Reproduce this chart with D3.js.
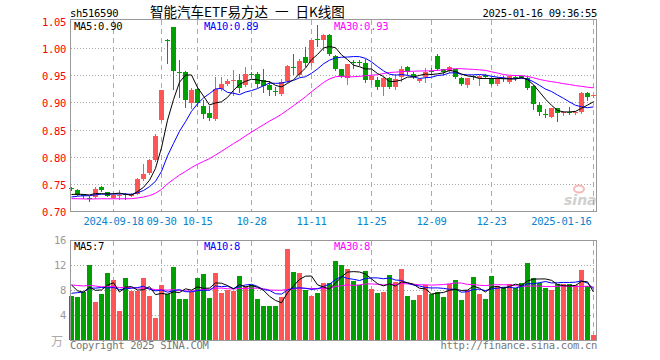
<!DOCTYPE html>
<html><head><meta charset="utf-8">
<script src="https://cdn.jsdelivr.net/npm/d3@7"></script>
<style>body{margin:0;background:#fff}svg{display:block}</style>
</head><body><svg id="c" width="660" height="360"></svg>
<script>
const dates = ["2024-09-05","2024-09-06","2024-09-09","2024-09-10","2024-09-11","2024-09-12","2024-09-13","2024-09-18","2024-09-19","2024-09-20",
"2024-09-23","2024-09-24","2024-09-25","2024-09-26","2024-09-27","2024-09-30","2024-10-08","2024-10-09","2024-10-10","2024-10-11",
"2024-10-14","2024-10-15","2024-10-16","2024-10-17","2024-10-18","2024-10-21","2024-10-22","2024-10-23","2024-10-24","2024-10-25",
"2024-10-28","2024-10-29","2024-10-30","2024-10-31","2024-11-01","2024-11-04","2024-11-05","2024-11-06","2024-11-07","2024-11-08",
"2024-11-11","2024-11-12","2024-11-13","2024-11-14","2024-11-15","2024-11-18","2024-11-19","2024-11-20","2024-11-21","2024-11-22",
"2024-11-25","2024-11-26","2024-11-27","2024-11-28","2024-11-29","2024-12-02","2024-12-03","2024-12-04","2024-12-05","2024-12-06",
"2024-12-09","2024-12-10","2024-12-11","2024-12-12","2024-12-13","2024-12-16","2024-12-17","2024-12-18","2024-12-19","2024-12-20",
"2024-12-23","2024-12-24","2024-12-25","2024-12-26","2024-12-27","2024-12-30","2024-12-31","2025-01-02","2025-01-03","2025-01-06",
"2025-01-07","2025-01-08","2025-01-09","2025-01-10","2025-01-13","2025-01-14","2025-01-15","2025-01-16"];

const open = [0.743,0.740,0.732,0.725,0.727,0.745,0.736,0.726,0.728,0.732,
0.729,0.733,0.760,0.772,0.795,0.868,1.016,1.039,0.956,0.956,
0.899,0.926,0.894,0.881,0.870,0.926,0.935,0.940,0.943,0.933,
0.954,0.953,0.942,0.933,0.921,0.917,0.941,0.966,0.952,0.984,
0.973,1.017,1.015,1.025,0.987,0.962,0.946,0.975,0.976,0.974,
0.943,0.942,0.929,0.946,0.929,0.947,0.966,0.954,0.941,0.947,
0.959,0.987,0.962,0.958,0.962,0.946,0.932,0.950,0.945,0.951,
0.946,0.934,0.946,0.938,0.947,0.949,0.946,0.931,0.896,0.880,
0.875,0.890,0.881,0.884,0.881,0.883,0.919,0.912];

const high = [0.745,0.741,0.733,0.729,0.745,0.747,0.737,0.731,0.739,0.735,
0.734,0.762,0.788,0.797,0.843,0.923,1.017,1.040,0.978,0.958,
0.928,0.929,0.905,0.894,0.948,0.948,0.944,0.960,0.953,0.966,
0.956,0.956,0.962,0.941,0.929,0.944,0.970,0.990,0.980,1.002,
1.016,1.043,1.026,1.026,0.988,0.963,0.972,0.979,0.978,0.980,
0.974,0.947,0.947,0.948,0.953,0.967,0.967,0.956,0.946,0.964,
0.965,0.989,0.963,0.967,0.963,0.947,0.946,0.952,0.951,0.954,
0.947,0.947,0.949,0.950,0.952,0.950,0.949,0.932,0.901,0.888,
0.891,0.891,0.886,0.893,0.885,0.920,0.920,0.915];

const low = [0.740,0.730,0.726,0.720,0.726,0.738,0.728,0.725,0.724,0.724,
0.728,0.732,0.758,0.770,0.793,0.866,0.974,0.926,0.911,0.892,
0.890,0.895,0.872,0.868,0.868,0.923,0.932,0.914,0.920,0.931,
0.947,0.929,0.920,0.914,0.914,0.915,0.939,0.954,0.950,0.968,
0.970,1.005,0.998,0.988,0.960,0.948,0.935,0.964,0.970,0.938,
0.935,0.926,0.914,0.927,0.926,0.941,0.953,0.945,0.939,0.938,
0.953,0.960,0.954,0.956,0.946,0.932,0.930,0.944,0.932,0.946,
0.933,0.933,0.940,0.937,0.942,0.945,0.925,0.889,0.878,0.874,
0.874,0.866,0.877,0.880,0.879,0.882,0.905,0.911];

const close = [0.742,0.731,0.728,0.724,0.742,0.740,0.729,0.730,0.730,0.731,
0.733,0.761,0.769,0.795,0.840,0.923,1.014,0.958,0.955,0.906,
0.924,0.899,0.879,0.873,0.925,0.934,0.940,0.943,0.928,0.954,
0.952,0.935,0.931,0.923,0.920,0.938,0.967,0.965,0.977,0.973,
1.015,1.015,1.025,0.990,0.962,0.950,0.971,0.974,0.975,0.942,
0.950,0.929,0.946,0.929,0.944,0.962,0.956,0.947,0.944,0.956,
0.958,0.962,0.956,0.966,0.947,0.934,0.945,0.948,0.950,0.947,
0.934,0.946,0.945,0.949,0.946,0.946,0.928,0.898,0.883,0.879,
0.890,0.881,0.884,0.883,0.884,0.919,0.910,0.914];

const volume = [7.04,6.88,7.73,12.0,6.08,7.36,10.72,9.6,4.64,9.92,
7.89,7.89,9.92,7.04,3.57,8.8,7.3,11.73,6.56,6.56,
7.73,9.92,10.56,6.72,10.72,7.52,8.05,7.89,10.24,8.69,
8.8,6.56,5.44,5.44,5.44,6.88,14.56,10.88,10.72,8.0,
7.04,7.52,9.12,9.12,12.69,12.0,11.41,9.49,8.8,11.04,
8.16,7.57,7.73,10.4,9.33,11.41,7.04,6.4,7.2,8.8,
7.36,7.73,6.93,8.96,9.6,6.4,8.0,10.08,7.36,6.56,
10.24,8.69,8.43,8.96,8.37,9.12,12.32,9.92,9.12,8.37,
8.0,8.96,8.96,8.96,8.8,11.2,8.64,0.8];

// sessions before the visible window (not drawn), estimated from where the MA lines start
const prevClose = [0.738,0.735,0.734,0.733,0.731,0.732,0.730,0.731,0.729,0.727,
0.722,0.718,0.715,0.712,0.710,0.708,0.711,0.713,0.710,0.712,
0.716,0.720,0.723,0.726,0.727,0.728,0.730,0.729,0.729];
const prevVolume = [9.2,10.1,8.7,9.8,11.2,8.9,9.4,10.3,8.6,9.1,
9.9,10.5,8.8,9.3,9.7,8.4,9.6,10.0,8.9,8.9,
5.8,6.5,5.9,6.2,6.3,11.5,8.9,8.0,8.56];

const tickDates = ["2024-09-18","2024-09-30","2024-10-15","2024-10-28","2024-11-11","2024-11-25","2024-12-09","2024-12-23","2025-01-16"];
const tickLabels = ["2024-09-18","09-30","10-15","10-28","11-11","11-25","12-09","12-23","2025-01-16"];
const priceTicks = [0.70,0.75,0.80,0.85,0.90,0.95,1.00,1.05];
const volTicks = [4,8,12,16];
const maPeriods = [5,10,30];

const RED = "#ff5555", GREEN = "#00a000";
const MA_COLORS = ["#000000","#0000ff","#ff00ff"];
const MONO = "DejaVu Sans Mono, Liberation Mono, monospace";

const svg = d3.select("#c");
const L = 70.5, R = 596.5;

const x = d3.scaleBand().domain(dates).range([68.5, 596.5]);
const cx = d => x(d) + x.bandwidth() / 2;
const yP = d3.scaleLinear().domain([0.70, 1.05]).range([211.7, 21.3]);
const yV = d3.scaleLinear().domain([0, 16]).range([340, 240]);

function movingAvg(prev, vals, n) {
  const full = prev.concat(vals), off = prev.length;
  return vals.map((v, i) => d3.mean(full.slice(i + off - n + 1, i + off + 1)));
}
const priceMA = maPeriods.map(n => movingAvg(prevClose, close, n));
const volMA = maPeriods.map(n => movingAvg(prevVolume, volume, n));

const up = dates.map((d, i) => close[i] >= open[i]);

// ---------- header ----------
svg.append("text").attr("x", 70).attr("y", 16.5).attr("font-family", MONO).attr("font-size", 10.5)
  .attr("letter-spacing", "-0.3px").attr("fill", "#000").text("sh516590");
svg.append("text").attr("x", 150).attr("y", 16.5).attr("font-family", "Noto Sans CJK SC")
  .attr("font-size", 13.5).attr("word-spacing", "4px").attr("fill", "#000").text("智能汽车ETF易方达 一 日K线图");
svg.append("text").attr("x", 597).attr("y", 16.5).attr("text-anchor", "end").attr("font-family", MONO)
  .attr("font-size", 10.5).attr("letter-spacing", "-0.3px").attr("fill", "#000").text("2025-01-16 09:36:55");

// ---------- grids ----------
const grid = svg.append("g").attr("shape-rendering", "crispEdges");
priceTicks.filter(t => t > 0.70 && t < 1.05).forEach(t => {
  const y = Math.round(yP(t) - 0.5) + 0.5;
  grid.append("line").attr("x1", L).attr("x2", R).attr("y1", y).attr("y2", y)
    .attr("stroke", "#aaa").attr("stroke-dasharray", "1,2");
});
volTicks.filter(t => t < 16).forEach(t => {
  const y = Math.round(yV(t)) + 0.5;
  grid.append("line").attr("x1", L).attr("x2", R).attr("y1", y).attr("y2", y)
    .attr("stroke", "#aaa").attr("stroke-dasharray", "1,2");
});
tickDates.forEach(d => {
  const xx = cx(d);
  grid.append("line").attr("x1", xx).attr("x2", xx).attr("y1", 20).attr("y2", 211)
    .attr("stroke", "#aaa").attr("stroke-dasharray", "5,4");
  grid.append("line").attr("x1", xx).attr("x2", xx).attr("y1", 241).attr("y2", 340)
    .attr("stroke", "#aaa").attr("stroke-dasharray", "5,4");
});

// watermark
const wm = svg.append("g").attr("opacity", 0.55);
wm.append("ellipse").attr("cx", 579).attr("cy", 189).attr("rx", 5).attr("ry", 3.5)
  .attr("fill", "none").attr("stroke", "#f08080").attr("stroke-width", 2);
wm.append("text").attr("x", 564).attr("y", 205).attr("font-family", "DejaVu Sans")
  .attr("font-weight", "bold").attr("font-style", "italic").attr("font-size", 14)
  .attr("fill", "#aaa").text("sina");

// ---------- candles ----------
const cg = svg.append("g").attr("shape-rendering", "crispEdges");
dates.forEach((d, i) => {
  const col = up[i] ? RED : GREEN;
  const xc = cx(d);
  cg.append("line").attr("x1", xc).attr("x2", xc)
    .attr("y1", Math.round(yP(high[i]))).attr("y2", Math.round(yP(low[i])) + 1)
    .attr("stroke", col);
  const y1 = Math.round(yP(Math.max(open[i], close[i])));
  const y2 = Math.round(yP(Math.min(open[i], close[i])));
  cg.append("rect").attr("x", xc - 2.5).attr("y", y1).attr("width", 5)
    .attr("height", Math.max(1, y2 - y1)).attr("fill", col);
});

// ---------- volume bars ----------
const vg = svg.append("g").attr("shape-rendering", "crispEdges");
dates.forEach((d, i) => {
  const y = Math.round(yV(volume[i]));
  vg.append("rect").attr("x", cx(d) - 2.5).attr("y", y).attr("width", 5)
    .attr("height", 340 - y).attr("fill", up[i] ? RED : GREEN);
});

// ---------- MA lines ----------
const lineP = d3.line().x((v, i) => cx(dates[i])).y(v => yP(v));
const lineV = d3.line().x((v, i) => cx(dates[i])).y(v => yV(v));
[2, 1, 0].forEach(j => {
  svg.append("path").attr("d", lineP(priceMA[j])).attr("fill", "none")
    .attr("stroke", MA_COLORS[j]).attr("stroke-width", 1);
  svg.append("path").attr("d", lineV(volMA[j])).attr("fill", "none")
    .attr("stroke", MA_COLORS[j]).attr("stroke-width", 1);
});

// ---------- frames ----------
const fr = svg.append("g").attr("shape-rendering", "crispEdges").attr("fill", "none").attr("stroke", "#999");
fr.append("rect").attr("x", L).attr("y", 19.5).attr("width", R - L).attr("height", 192);
fr.append("rect").attr("x", L).attr("y", 240.5).attr("width", R - L).attr("height", 100);

// ---------- axis labels ----------
const txt = (g, xx, y, s, fill, anchor) => g.append("text").attr("x", xx).attr("y", y)
  .attr("font-family", MONO).attr("font-size", 10.5).attr("letter-spacing", "-0.3px")
  .attr("fill", fill).attr("text-anchor", anchor || "start").text(s);
const ax = svg.append("g");
priceTicks.forEach(t => txt(ax, 66, yP(t) + 4.5, t.toFixed(2), "#ff0000", "end"));
volTicks.forEach(t => txt(ax, 66, yV(t) + 4, String(t), "#999", "end"));
ax.append("text").attr("x", 63).attr("y", 346).attr("text-anchor", "end")
  .attr("font-family", "Noto Sans CJK SC").attr("font-size", 12).attr("fill", "#aaa").text("万");
tickDates.forEach((d, i) => {
  const last = i === tickDates.length - 1;
  txt(ax, last ? cx(d) - 2 : cx(d), 225, tickLabels[i], "#0a84d0", last ? "end" : "middle");
});

// MA legends
const lastP = priceMA.map(a => a[a.length - 1]);
const lastV = volMA.map(a => a[a.length - 1]);
const legX = [74, 204, 334];
maPeriods.forEach((n, j) => {
  txt(ax, legX[j], 29.5, "MA" + n + ":" + lastP[j].toFixed(2), MA_COLORS[j]);
  txt(ax, legX[j], 250, "MA" + n + ":" + Math.floor(lastV[j]), MA_COLORS[j]);
});

// footer
txt(ax, 70, 349, "Copyright 2025 SINA.COM", "#777");
txt(ax, 597, 349, "http://finance.sina.com.cn", "#777", "end");
</script>
</body></html>
